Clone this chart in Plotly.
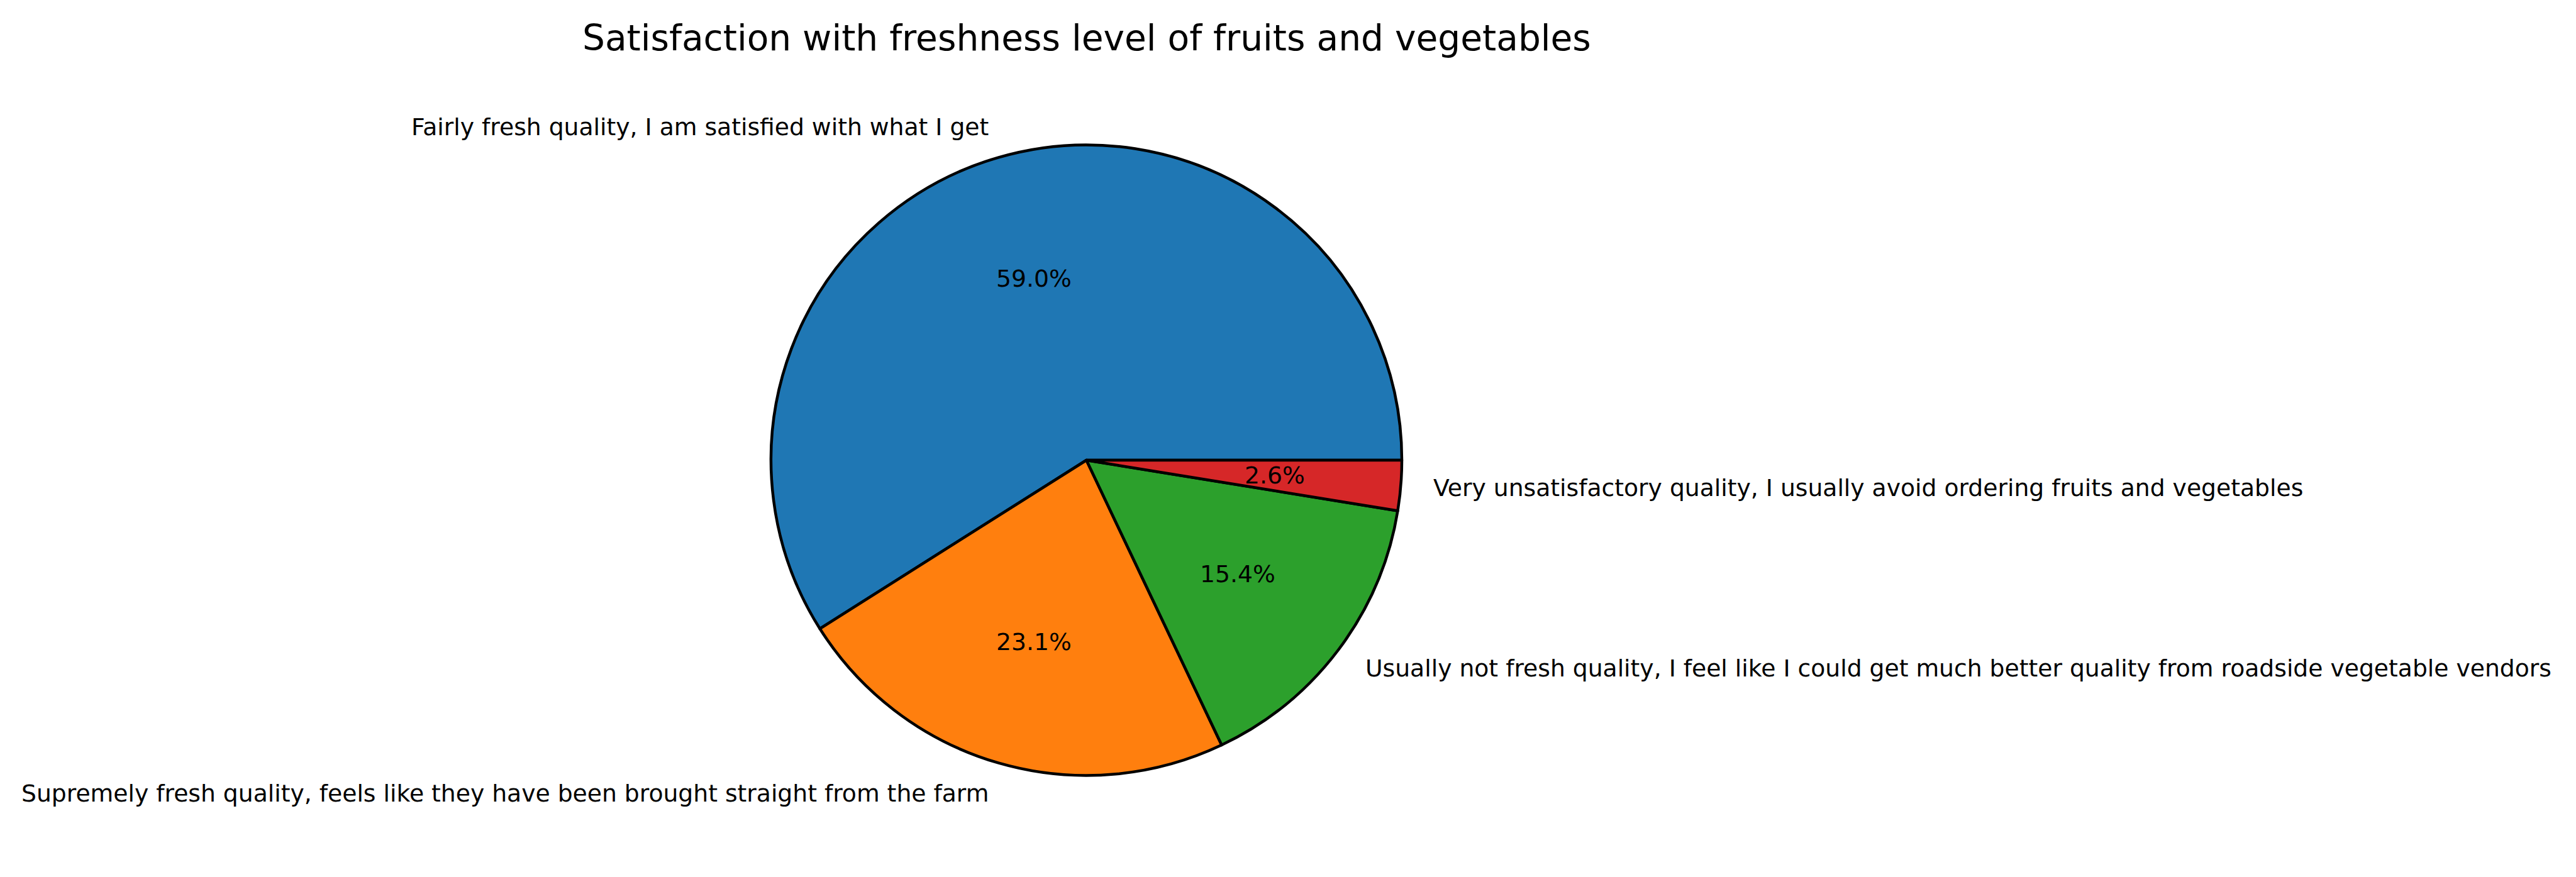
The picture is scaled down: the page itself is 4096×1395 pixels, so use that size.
import math
import plotly.graph_objects as go

# ---- data ----
categories = [
    "Fairly fresh quality, I am satisfied with what I get",
    "Supremely fresh quality, feels like they have been brought straight from the farm",
    "Usually not fresh quality, I feel like I could get much better quality from roadside vegetable vendors",
    "Very unsatisfactory quality, I usually avoid ordering fruits and vegetables",
]
counts = [23, 9, 6, 1]
colors = ["#1f77b4", "#ff7f0e", "#2ca02c", "#d62728"]
title_text = "Satisfaction with freshness level of fruits and vegetables"

# ---- layout constants (pixels) ----
W, H = 4096, 1395
CX, CY, R = 1727.5, 732.0, 501.5
FONT = "DejaVu Sans"
LABEL_SIZE = 37.7
TITLE_SIZE = 56.6
LABEL_DIST = 1.1
PCT_DIST = 0.6


def px2paper(px, py):
    return px / W, 1 - py / H


total = sum(counts)
# plotly's counterclockwise mode ends the first slice at `rotation`;
# shift so the first slice starts at 3 o'clock like matplotlib's startangle=0
rotation = 90 - 360 * counts[0] / total

fig = go.Figure()
fig.add_trace(go.Pie(
    values=counts,
    labels=categories,
    sort=False,
    direction="counterclockwise",
    rotation=rotation,
    marker=dict(colors=colors, line=dict(color="black", width=4.5)),
    textinfo="none",
    hoverinfo="skip",
    showlegend=False,
    domain=dict(x=[(CX - R) / W, (CX + R) / W], y=[(H - CY - R) / H, (H - CY + R) / H]),
))

annotations = []
start = 0.0
for cat, c in zip(categories, counts):
    frac = c / total
    mid = math.radians((start + frac / 2) * 360)
    start += frac
    cx, cy = math.cos(mid), math.sin(mid)
    # outer label
    lx, ly = px2paper(CX + LABEL_DIST * R * cx, CY - LABEL_DIST * R * cy)
    annotations.append(dict(
        x=lx, y=ly, xref="paper", yref="paper", text=cat, showarrow=False,
        xanchor="left" if cx > 0 else "right", yanchor="middle",
        font=dict(family=FONT, size=LABEL_SIZE, color="black"),
    ))
    # percentage label
    px_, py_ = px2paper(CX + PCT_DIST * R * cx, CY - PCT_DIST * R * cy)
    annotations.append(dict(
        x=px_, y=py_, xref="paper", yref="paper", text=f"{frac * 100:.1f}%", showarrow=False,
        xanchor="center", yanchor="middle",
        font=dict(family=FONT, size=LABEL_SIZE, color="black"),
    ))

tx, ty = px2paper(CX, 60)
annotations.append(dict(
    x=tx, y=ty, xref="paper", yref="paper", text=title_text, showarrow=False,
    xanchor="center", yanchor="middle",
    font=dict(family=FONT, size=TITLE_SIZE, color="black"),
))

fig.update_layout(
    width=W, height=H,
    margin=dict(l=0, r=0, t=0, b=0),
    paper_bgcolor="white", plot_bgcolor="white",
    annotations=annotations,
)

fig.write_html("out.html")
